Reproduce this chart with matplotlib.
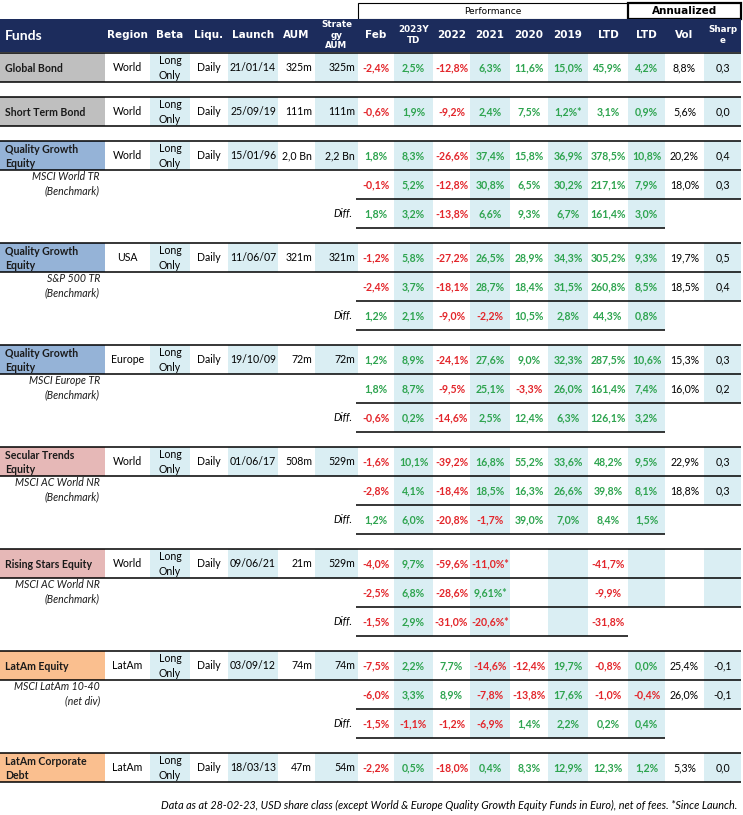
import matplotlib.pyplot as plt
from matplotlib.patches import Rectangle

# ---------------- data ----------------
funds = ["Global Bond", "Short Term Bond", "Quality Growth\nEquity", "Quality Growth\nEquity",
         "Quality Growth\nEquity", "Secular Trends\nEquity", "Rising Stars Equity",
         "LatAm Equity", "LatAm Corporate\nDebt"]
regions = ["World", "World", "World", "USA", "Europe", "World", "World", "LatAm", "LatAm"]
beta = "Long\nOnly"
liquidity = "Daily"
launch = ["21/01/14", "25/09/19", "15/01/96", "11/06/07", "19/10/09", "01/06/17",
          "09/06/21", "03/09/12", "18/03/13"]
aum = ["325m", "111m", "2,0 Bn", "321m", "72m", "508m", "21m", "74m", "47m"]
strategy_aum = ["325m", "111m", "2,2 Bn", "321m", "72m", "529m", "529m", "74m", "54m"]

# Feb, 2023YTD, 2022, 2021, 2020, 2019, LTD | LTD (ann.), Vol, Sharpe
fund_perf = [
    ["-2,4%", "2,5%", "-12,8%", "6,3%", "11,6%", "15,0%", "45,9%", "4,2%", "8,8%", "0,3"],
    ["-0,6%", "1,9%", "-9,2%", "2,4%", "7,5%", "1,2%*", "3,1%", "0,9%", "5,6%", "0,0"],
    ["1,8%", "8,3%", "-26,6%", "37,4%", "15,8%", "36,9%", "378,5%", "10,8%", "20,2%", "0,4"],
    ["-1,2%", "5,8%", "-27,2%", "26,5%", "28,9%", "34,3%", "305,2%", "9,3%", "19,7%", "0,5"],
    ["1,2%", "8,9%", "-24,1%", "27,6%", "9,0%", "32,3%", "287,5%", "10,6%", "15,3%", "0,3"],
    ["-1,6%", "10,1%", "-39,2%", "16,8%", "55,2%", "33,6%", "48,2%", "9,5%", "22,9%", "0,3"],
    ["-4,0%", "9,7%", "-59,6%", "-11,0%*", "", "", "-41,7%", "", "", ""],
    ["-7,5%", "2,2%", "7,7%", "-14,6%", "-12,4%", "19,7%", "-0,8%", "0,0%", "25,4%", "-0,1"],
    ["-2,2%", "0,5%", "-18,0%", "0,4%", "8,3%", "12,9%", "12,3%", "1,2%", "5,3%", "0,0"],
]

benchmarks = [None, None, "MSCI World TR\n(Benchmark)", "S&P 500 TR\n(Benchmark)",
              "MSCI Europe TR\n(Benchmark)", "MSCI AC World NR\n(Benchmark)",
              "MSCI AC World NR\n(Benchmark)", "MSCI LatAm 10-40\n(net div)", None]
bench_perf = [
    None, None,
    ["-0,1%", "5,2%", "-12,8%", "30,8%", "6,5%", "30,2%", "217,1%", "7,9%", "18,0%", "0,3"],
    ["-2,4%", "3,7%", "-18,1%", "28,7%", "18,4%", "31,5%", "260,8%", "8,5%", "18,5%", "0,4"],
    ["1,8%", "8,7%", "-9,5%", "25,1%", "-3,3%", "26,0%", "161,4%", "7,4%", "16,0%", "0,2"],
    ["-2,8%", "4,1%", "-18,4%", "18,5%", "16,3%", "26,6%", "39,8%", "8,1%", "18,8%", "0,3"],
    ["-2,5%", "6,8%", "-28,6%", "9,61%*", "", "", "-9,9%", "", "", ""],
    ["-6,0%", "3,3%", "8,9%", "-7,8%", "-13,8%", "17,6%", "-1,0%", "-0,4%", "26,0%", "-0,1"],
    None,
]
diff_perf = [
    None, None,
    ["1,8%", "3,2%", "-13,8%", "6,6%", "9,3%", "6,7%", "161,4%", "3,0%"],
    ["1,2%", "2,1%", "-9,0%", "-2,2%", "10,5%", "2,8%", "44,3%", "0,8%"],
    ["-0,6%", "0,2%", "-14,6%", "2,5%", "12,4%", "6,3%", "126,1%", "3,2%"],
    ["1,2%", "6,0%", "-20,8%", "-1,7%", "39,0%", "7,0%", "8,4%", "1,5%"],
    ["-1,5%", "2,9%", "-31,0%", "-20,6%*", "", "", "-31,8%"],
    ["-1,5%", "-1,1%", "-1,2%", "-6,9%", "1,4%", "2,2%", "0,2%", "0,4%"],
    None,
]

headers = ["Region", "Beta", "Liqu.", "Launch", "AUM", "Strate\ngy\nAUM", "Feb", "2023Y\nTD",
           "2022", "2021", "2020", "2019", "LTD", "LTD", "Vol", "Sharp\ne"]
footnote = ("Data as at 28-02-23, USD share class (except World & Europe Quality Growth "
            "Equity Funds in Euro), net of fees. *Since Launch.")

# ---------------- style / layout ----------------
fund_fill = ["#bfbfbf", "#bfbfbf", "#95b3d7", "#95b3d7", "#95b3d7", "#e6b8b7", "#e6b8b7",
             "#fabf8f", "#fabf8f"]
navy = "#1c2c5c"
shade = "#daeef3"
green = "#2ea44f"
red = "#e3262b"
edges = [0, 105, 150, 190, 228, 278, 315, 358, 394, 433, 470, 510, 548, 588, 628, 665, 704, 741]
shaded_cols = [2, 4, 6, 8, 10, 12, 14, 16]
FIRST_PERF = 7
ROW_H = 29
GAP = 15
TOP = 53
body_font = "Lato"
head_font = "DejaVu Sans"
fs = 7.6
LS = 1.35


def center(c):
    return (edges[c] + edges[c + 1]) / 2


def hline(ax, y, x0, x1, lw=1.0):
    ax.plot([x0, x1], [y, y], color="black", lw=lw, solid_capstyle="butt")


def shade_cols(ax, y0, cols):
    for c in cols:
        ax.add_patch(Rectangle((edges[c], y0), edges[c + 1] - edges[c], ROW_H,
                               facecolor=shade, edgecolor="none", zorder=0))


def perf_texts(ax, y0, values):
    for i, v in enumerate(values):
        if not v:
            continue
        c = FIRST_PERF + i
        if c >= 15:  # Vol / Sharpe in black
            color, weight = "black", "normal"
        else:
            color = red if v.startswith("-") else green
            weight = "bold"
        ax.text(center(c), y0 + ROW_H / 2, v, ha="center", va="center", fontsize=fs,
                color=color, fontweight=weight, family=body_font)


fig = plt.figure(figsize=(7.43, 8.15), dpi=100)
ax = fig.add_axes([0, 0, 1, 1])
ax.set_xlim(0, 743)
ax.set_ylim(815, 0)
ax.axis("off")

# top group boxes
ax.add_patch(Rectangle((edges[7], 3), edges[14] - edges[7], 16, facecolor="white",
                       edgecolor="black", lw=0.8))
ax.text((edges[7] + edges[14]) / 2, 11, "Performance", ha="center", va="center",
        fontsize=6.5, family=head_font)
ax.add_patch(Rectangle((edges[14], 3), edges[17] - edges[14], 16, facecolor="white",
                       edgecolor="black", lw=1.6))
ax.text((edges[14] + edges[17]) / 2, 11, "Annualized", ha="center", va="center",
        fontsize=7.5, fontweight="bold", family=head_font)

# navy header band
ax.add_patch(Rectangle((0, 19), edges[-1], 33, facecolor=navy, edgecolor="none"))
ax.text(5, 36, "Funds", ha="left", va="center", fontsize=10, color="white",
        fontweight="bold", family=body_font)
for i, h in enumerate(headers):
    c = i + 1
    small = "\n" in h
    ax.text(center(c), 35, h, ha="center", va="center", color="white", fontweight="bold",
            fontsize=6.3 if small else 7.5, family=head_font, linespacing=1.15)

y = TOP
for k, name in enumerate(funds):
    # main fund row
    mid = y + ROW_H / 2
    shade_cols(ax, y, shaded_cols)
    ax.add_patch(Rectangle((0, y), edges[1], ROW_H, facecolor=fund_fill[k], edgecolor="none"))
    ax.text(5, mid + 1, name, ha="left", va="center", fontsize=fs,
            fontweight="bold", family=body_font, color="#1a1a1a", linespacing=LS)
    ax.text(center(1), mid, regions[k], ha="center", va="center", fontsize=fs,
            family=body_font)
    ax.text(center(2), mid + 0.5, beta, ha="center", va="center", fontsize=fs,
            family=body_font, linespacing=LS)
    ax.text(center(3), mid, liquidity, ha="center", va="center", fontsize=fs,
            family=body_font)
    ax.text(center(4), mid, launch[k], ha="center", va="center", fontsize=fs,
            family=body_font)
    ax.text(edges[6] - 3, mid, aum[k], ha="right", va="center", fontsize=fs,
            family=body_font)
    ax.text(edges[7] - 3, mid, strategy_aum[k], ha="right", va="center",
            fontsize=fs, family=body_font)
    perf_texts(ax, y, fund_perf[k])
    hline(ax, y, 0, edges[-1], 1.1)
    hline(ax, y + ROW_H, 0, edges[-1], 1.1)
    y += ROW_H

    if benchmarks[k] is not None:
        # benchmark row
        shade_cols(ax, y, [c for c in shaded_cols if c >= FIRST_PERF])
        ax.text(edges[1] - 5, y + ROW_H / 2 - 0.5, benchmarks[k], ha="right", va="center",
                fontsize=fs, style="italic", family=body_font, color="#1a1a1a",
                linespacing=LS)
        perf_texts(ax, y, bench_perf[k])
        hline(ax, y + ROW_H, edges[7] - 2, edges[-1], 1.1)
        y += ROW_H

        # difference row
        last = FIRST_PERF + len(diff_perf[k])
        shade_cols(ax, y, [c for c in shaded_cols if FIRST_PERF <= c < last])
        ax.text(edges[7] - 6, y + ROW_H / 2, "Diff.", ha="right", va="center", fontsize=fs,
                style="italic", family=body_font)
        perf_texts(ax, y, diff_perf[k])
        hline(ax, y + ROW_H, edges[7] - 2, edges[last], 1.1)
        y += ROW_H

    y += GAP

ax.text(737, 805, footnote, ha="right", va="center", fontsize=7.8, style="italic",
        family=body_font)

fig.savefig("out.png", dpi=100)
